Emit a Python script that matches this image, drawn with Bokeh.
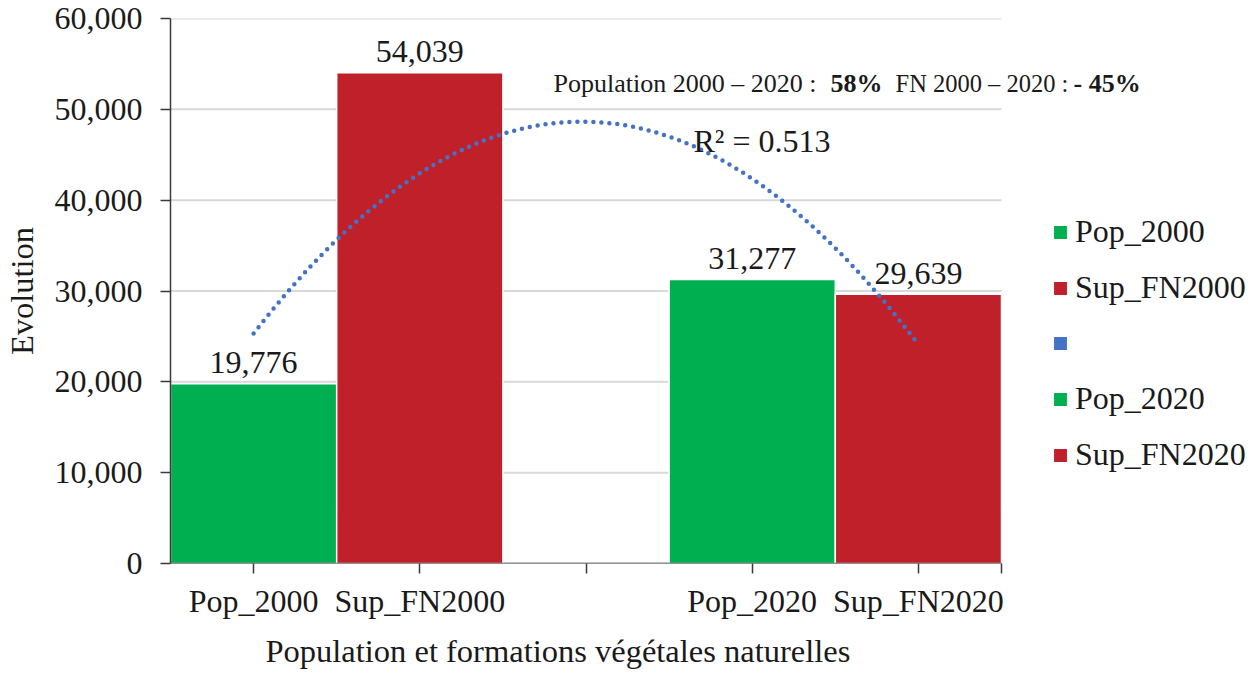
import numpy as np
from bokeh.plotting import figure
from bokeh.models import (ColumnDataSource, Range1d, FixedTicker, NumeralTickFormatter,
                          CustomJSTickFormatter, Legend, LegendItem, Label, Title)
from bokeh.core.properties import value
from bokeh.embed import file_html
from bokeh.resources import INLINE

# ---- data ----
categories = ["Pop_2000", "Sup_FN2000", "", "Pop_2020", "Sup_FN2020"]
legend_labels = ["Pop_2000", "Sup_FN2000", " ", "Pop_2020", "Sup_FN2020"]
values = [19776, 54039, np.nan, 31277, 29639]
bar_colors = ["#00B050", "#C0202A", "#4472C4", "#00B050", "#C0202A"]
y_ticks = [0, 10000, 20000, 30000, 40000, 50000, 60000]
note_parts = ["Population 2000 \u2013 2020 :", "58%", "FN 2000 \u2013 2020 :", "- 45%"]
x_title = "Population et formations v\u00e9g\u00e9tales naturelles"

FONT = "Liberation Serif"
n = len(categories)
positions = list(range(1, n + 1))

W, H = 1250, 681
FL, FR, FT, FB = 170, 1001, 18, 563            # visual plot area (px)
ppu = (FR - FL) / n                            # px per category
x_end = 0.5 + (W - FL) / ppu                   # frame extends to the right edge

p = figure(width=W, height=H, output_backend="svg", toolbar_location=None,
           x_range=Range1d(0.5, x_end), y_range=Range1d(0, 60000),
           min_border_left=FL, min_border_right=0, min_border_top=FT, min_border_bottom=H - FB)
p.outline_line_color = None
p.background_fill_color = "white"

# horizontal gridlines limited to the category area
gx0 = [0.5] * len(y_ticks)
gx1 = [n + 0.5] * len(y_ticks)
p.segment(x0=gx0, x1=gx1, y0=y_ticks, y1=y_ticks, line_color="#D9D9D9", line_width=2)

src = ColumnDataSource(dict(x=positions, top=values, color=bar_colors,
                            lab=[("" if np.isnan(v) else f"{int(v):,}") for v in values]))
bars = p.vbar(x="x", top="top", bottom=0, width=1.0, fill_color="color",
              line_color="white", line_width=1.5, source=src)

# x axis baseline (category area only)
p.segment(x0=[0.5 - 9 / ppu], x1=[n + 0.5], y0=[0], y1=[0], line_color="#3a3a3a", line_width=1.5)

# value labels
p.text(x="x", y="top", text="lab", source=src, text_align="center", text_baseline="alphabetic",
       y_offset=-21, text_font=value(FONT), text_font_size="32px", text_color="#1a1a1a")

# polynomial (order 2) trend line computed from the data
xs = np.array([x for x, v in zip(positions, values) if not np.isnan(v)], dtype=float)
ys = np.array([v for v in values if not np.isnan(v)], dtype=float)
coef = np.polyfit(xs, ys, 2)
fit = np.polyval(coef, xs)
r2 = 1 - np.sum((ys - fit) ** 2) / np.sum((ys - ys.mean()) ** 2)
tx = np.linspace(xs.min(), xs.max(), 200)
p.line(tx, np.polyval(coef, tx), line_color="#4472C4", line_width=4.5,
       line_dash="0 8", line_cap="round")

# axes
p.yaxis.ticker = FixedTicker(ticks=y_ticks)
p.yaxis.formatter = NumeralTickFormatter(format="0,0")
p.xaxis.ticker = FixedTicker(ticks=positions + [n + 0.5])
p.xaxis.formatter = CustomJSTickFormatter(args=dict(labels=categories), code="""
    const i = Math.round(tick);
    if (Math.abs(tick - i) < 1e-6 && i >= 1 && i <= labels.length) return labels[i-1];
    return "";
""")
for ax in (p.xaxis[0], p.yaxis[0]):
    ax.axis_line_color = "#3a3a3a"
    ax.axis_line_width = 1.5
    ax.major_tick_line_color = "#3a3a3a"
    ax.major_tick_line_width = 1.5
    ax.major_tick_out = 10
    ax.major_tick_in = 0
    ax.minor_tick_line_color = None
    ax.major_label_text_font = FONT
    ax.major_label_text_font_size = "32px"
    ax.major_label_text_color = "#1a1a1a"
    ax.axis_label_text_font = FONT
    ax.axis_label_text_font_size = "32.5px"
    ax.axis_label_text_font_style = "normal"
    ax.axis_label_text_color = "#1a1a1a"
p.xaxis.axis_line_color = None
p.yaxis.major_label_standoff = 18
p.xaxis.major_label_standoff = 9
p.yaxis.axis_label = "Evolution"
p.yaxis.axis_label_standoff = 12

# x title, left-aligned to the category area
p.add_layout(Title(text=x_title, align="left", offset=265 - FL, standoff=19,
                   text_font=FONT, text_font_size="32.5px", text_font_style="normal",
                   text_color="#1a1a1a"), "below")

p.xgrid.grid_line_color = None
p.ygrid.grid_line_color = None

# legend (inside the extended frame, to the right of the bars)
items = [LegendItem(label=lbl, renderers=[bars], index=i) for i, lbl in enumerate(legend_labels)]
legend = Legend(items=items, location=(1051 - FL, 90), padding=0, margin=0,
                border_line_alpha=0, background_fill_alpha=0,
                label_text_font=FONT, label_text_font_size="32px", label_text_color="#1a1a1a",
                glyph_width=18, glyph_height=18, label_standoff=6,
                label_height=36, spacing=19)
p.add_layout(legend)

# annotations (page px -> data units helper for text placement)
def dx(px):
    return 0.5 + (px - FL) / ppu
def dy(py):
    return (FB - py) / (FB - FT) * 60000

note_x = [553, 830, 895, 1073]
note_bold = [False, True, False, True]
note_size = ["26px", "26px", "24.5px", "26px"]
for txt, px, b, fs in zip(note_parts, note_x, note_bold, note_size):
    p.add_layout(Label(x=dx(px), y=dy(83), text=txt, text_font=FONT, text_font_size=fs,
                       text_font_style="bold" if b else "normal", text_color="#1a1a1a",
                       text_baseline="alphabetic"))
p.add_layout(Label(x=dx(693), y=dy(140), text=f"R\u00b2 = {r2:.3f}", text_font=FONT,
                   text_font_size="32px", text_color="#1a1a1a", text_baseline="alphabetic"))

open("out.html", "w").write(file_html(p, INLINE))
